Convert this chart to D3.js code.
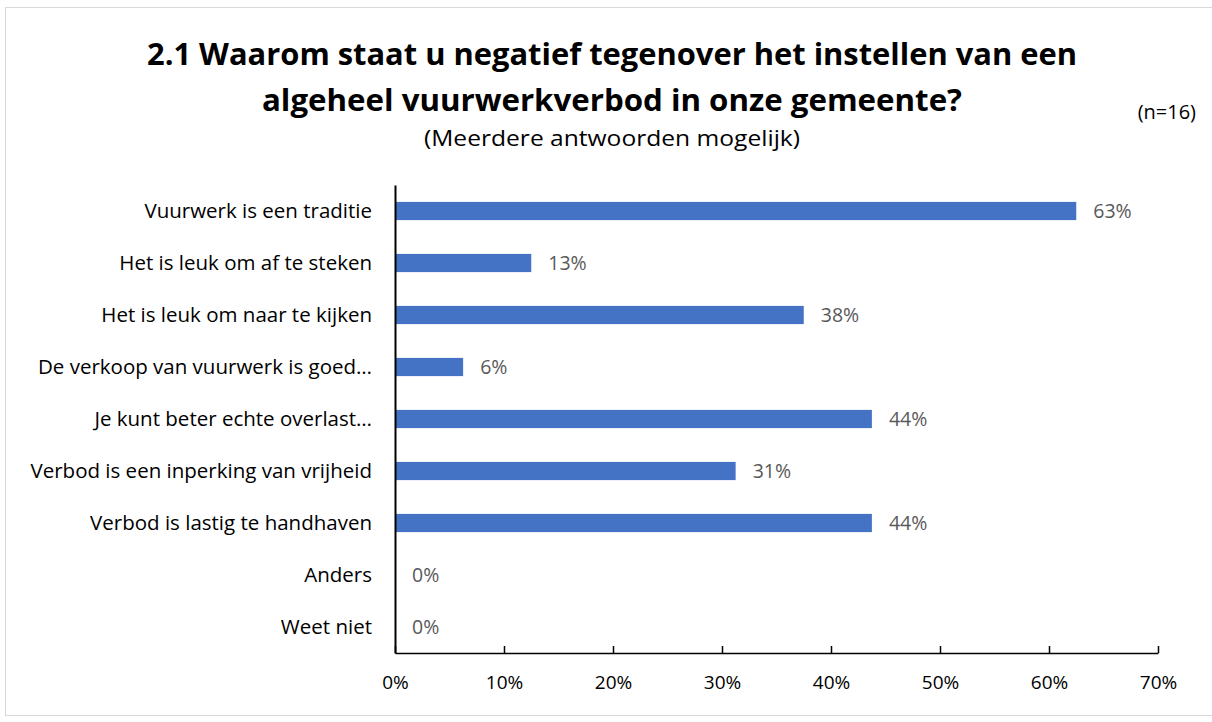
<!DOCTYPE html>
<html>
<head>
<meta charset="utf-8">
<script src="https://cdn.jsdelivr.net/npm/d3@7"></script>
<style>
	body { margin: 0; background: #fff; }
	text { font-family: "Open Sans", sans-serif; }
</style>
</head>
<body>
<svg width="1212" height="722"></svg>
<script>
var categories = [
	"Vuurwerk is een traditie",
	"Het is leuk om af te steken",
	"Het is leuk om naar te kijken",
	"De verkoop van vuurwerk is goed…",
	"Je kunt beter echte overlast…",
	"Verbod is een inperking van vrijheid",
	"Verbod is lastig te handhaven",
	"Anders",
	"Weet niet"
];
var values = [62.5, 12.5, 37.5, 6.25, 43.75, 31.25, 43.75, 0, 0];
var ticks = [0, 10, 20, 30, 40, 50, 60, 70];

var svg = d3.select("svg");

// chart frame
svg.append("rect")
	.attr("x", 5.5).attr("y", 7.5)
	.attr("width", 1212).attr("height", 708)
	.attr("fill", "none")
	.attr("stroke", "#d9d9d9");

var x = d3.scaleLinear().domain([0, 70]).range([395, 1158]);
var y = d3.scaleBand().domain(categories).range([185, 653]).paddingInner(0.65).paddingOuter(0.325);

// titles
var title = svg.append("text")
	.attr("text-anchor", "middle")
	.attr("font-weight", "bold")
	.attr("font-size", 30)
	.attr("fill", "#000");
title.append("tspan").attr("x", 612).attr("y", 65)
	.attr("textLength", 930).attr("lengthAdjust", "spacingAndGlyphs")
	.text("2.1 Waarom staat u negatief tegenover het instellen van een");
title.append("tspan").attr("x", 612).attr("y", 111)
	.attr("textLength", 700).attr("lengthAdjust", "spacingAndGlyphs")
	.text("algeheel vuurwerkverbod in onze gemeente?");

svg.append("text")
	.attr("x", 612).attr("y", 146)
	.attr("text-anchor", "middle")
	.attr("font-size", 21)
	.attr("textLength", 376).attr("lengthAdjust", "spacingAndGlyphs")
	.text("(Meerdere antwoorden mogelijk)");

svg.append("text")
	.attr("x", 1196).attr("y", 119)
	.attr("text-anchor", "end")
	.attr("font-size", 20)
	.text("(n=16)");

// bars
svg.append("g")
	.selectAll("rect")
	.data(values)
	.enter().append("rect")
		.attr("x", x(0))
		.attr("y", function(d, i) { return y(categories[i]); })
		.attr("width", function(d) { return x(d) - x(0); })
		.attr("height", y.bandwidth())
		.attr("fill", "#4472c4");

// value labels
svg.append("g")
	.selectAll("text")
	.data(values)
	.enter().append("text")
		.attr("x", function(d) { return x(d) + 17; })
		.attr("y", function(d, i) { return y(categories[i]) + y.bandwidth() / 2; })
		.attr("dy", "0.35em")
		.attr("font-size", 19.5)
		.attr("fill", "#595959")
		.text(function(d) { return Math.round(d) + "%"; });

// y axis
var yAxis = svg.append("g")
	.attr("transform", "translate(" + x(0) + ",0)")
	.call(d3.axisLeft(y).tickSize(0).tickPadding(23));
yAxis.select(".domain").attr("stroke", "#000").attr("stroke-width", 2);
yAxis.selectAll("text").attr("font-size", 20.5).attr("fill", "#000")
	.style("font-family", "'Open Sans', sans-serif");

// x axis
var xAxis = svg.append("g")
	.attr("transform", "translate(0,653)")
	.call(d3.axisBottom(x).tickValues(ticks).tickSize(-7).tickSizeOuter(0).tickPadding(23)
		.tickFormat(function(d) { return d + "%"; }));
xAxis.select(".domain").attr("stroke", "#000").attr("stroke-width", 1.5);
xAxis.selectAll(".tick line").attr("stroke", "#000").attr("stroke-width", 1.5);
xAxis.selectAll("text").attr("font-size", 19).attr("fill", "#000")
	.style("font-family", "'Open Sans', sans-serif");
</script>
</body>
</html>
